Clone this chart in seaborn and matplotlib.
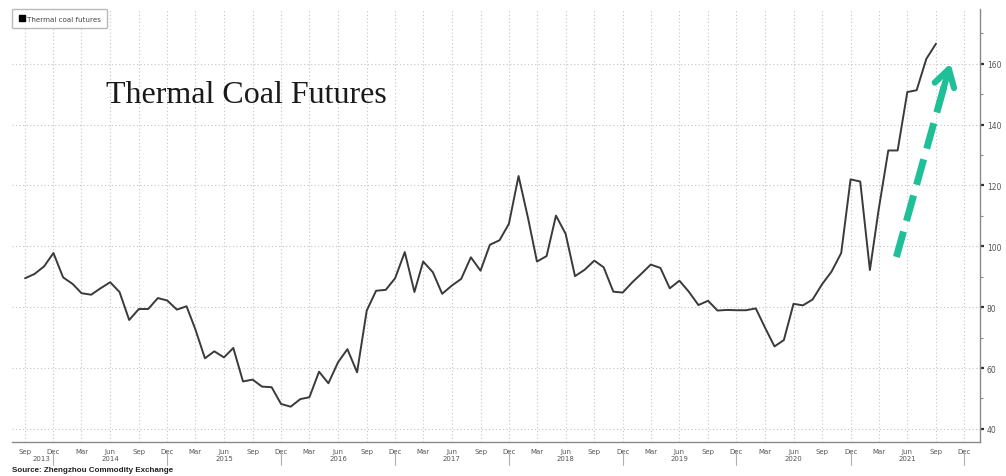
import numpy as np
import pandas as pd
import matplotlib
matplotlib.use("Agg")
import matplotlib.pyplot as plt
import matplotlib.dates as mdates
from matplotlib.lines import Line2D
from matplotlib.ticker import MultipleLocator
import seaborn as sns

# ---------------- data ----------------
START = "2013-09-01"
prices_2013 = [89.5, 90.9, 93.4, 97.8]
prices_2014 = [89.8, 87.6, 84.6, 84.1, 86.2, 88.2, 85.0, 75.8, 79.4, 79.4, 83.0, 82.2]
prices_2015 = [79.2, 80.3, 72.8, 63.2, 65.5, 63.5, 66.6, 55.6, 56.2, 53.9, 53.7, 48.2]
prices_2016 = [47.3, 49.8, 50.4, 58.8, 55.0, 61.9, 66.2, 58.6, 78.9, 85.4, 85.7, 89.5]
prices_2017 = [98.1, 85.0, 95.0, 91.5, 84.4, 87.1, 89.3, 96.4, 92.0, 100.5, 102.0, 107.4]
prices_2018 = [123.1, 109.0, 95.0, 96.8, 110.1, 104.1, 90.2, 92.3, 95.3, 93.1, 85.1, 84.8]
prices_2019 = [88.2, 91.2, 94.0, 92.9, 86.2, 88.7, 85.1, 80.7, 82.1, 78.9, 79.1, 79.0]
prices_2020 = [79.0, 79.6, 73.4, 67.1, 69.2, 81.1, 80.6, 82.5, 87.6, 91.7, 97.8, 122.0]
prices_2021 = [121.3, 92.2, 112.0, 131.5, 131.5, 150.7, 151.3, 161.6, 166.6]

values = (prices_2013 + prices_2014 + prices_2015 + prices_2016 + prices_2017
          + prices_2018 + prices_2019 + prices_2020 + prices_2021)
dates = pd.date_range(START, periods=len(values), freq="MS")
df = pd.DataFrame({"date": dates, "price": values})

years = [2013, 2014, 2015, 2016, 2017, 2018, 2019, 2020, 2021]
y_ticks = [40, 60, 80, 100, 120, 140, 160]
series_label = "Thermal coal futures"
title_text = "Thermal Coal Futures"
source_text = "Source: Zhengzhou Commodity Exchange"

# arrow annotation (date, value)
arrow_start = ("2021-04-27", 96.5)
arrow_end = ("2021-10-20", 161.0)

# ---------------- style ----------------
sns.set_theme(style="white")
plt.rcParams["font.family"] = ["DejaVu Sans"]

LINE_C = "#3a3a3a"
GRID_C = "#c4c4c4"
AXIS_C = "#8a8a8a"
TEXT_C = "#555555"
ARROW_C = "#1fbf97"

fig = plt.figure(figsize=(10.06, 4.77), dpi=100)
ax = fig.add_axes([0.0119, 0.0713, 0.9622, 0.9078])

sns.lineplot(data=df, x="date", y="price", ax=ax, color=LINE_C, lw=1.4,
             legend=False, zorder=3)

ax.set_xlim(pd.Timestamp("2013-07-21"), pd.Timestamp("2022-01-20"))
ax.set_ylim(35.7, 178)
ax.set_xlabel("")
ax.set_ylabel("")

# spines
for s in ["top", "left"]:
    ax.spines[s].set_visible(False)
for s in ["right", "bottom"]:
    ax.spines[s].set_color(AXIS_C)
    ax.spines[s].set_linewidth(1.0)

# y axis on right
ax.yaxis.tick_right()
ax.set_yticks(y_ticks)
ax.yaxis.set_minor_locator(MultipleLocator(10))
ax.tick_params(axis="y", which="major", direction="out", length=3, width=1.6,
               color="#333333", labelsize=5.5, labelcolor=TEXT_C, pad=2)
ax.tick_params(axis="y", which="minor", direction="out", length=2.5, width=0.8,
               color=AXIS_C)

# x axis
ax.xaxis.set_major_locator(mdates.MonthLocator(bymonth=[3, 6, 9, 12]))
ax.xaxis.set_major_formatter(mdates.DateFormatter("%b"))
ax.xaxis.set_minor_locator(mdates.MonthLocator())
ax.tick_params(axis="x", which="major", direction="out", length=3, width=0.8,
               color=AXIS_C, labelsize=5, labelcolor=TEXT_C, pad=1.0)
ax.tick_params(axis="x", which="minor", direction="out", length=2, width=0.6,
               color=AXIS_C)

# grid
ax.grid(True, which="major", axis="both", ls=(0, (1, 2.2)), color=GRID_C, lw=0.8)
ax.set_axisbelow(True)

# year separators and labels
for yr in years:
    sep = mdates.date2num(pd.Timestamp(f"{yr}-12-01"))
    ax.plot([sep, sep], [-0.023, -0.052], transform=ax.get_xaxis_transform(),
            color="#b0b0b0", lw=0.8, clip_on=False)
    if yr == years[0]:
        pos = pd.Timestamp(f"{yr}-10-25")
    else:
        pos = pd.Timestamp(f"{yr}-06-01")
    ax.text(mdates.date2num(pos), -0.036, str(yr), transform=ax.get_xaxis_transform(),
            ha="center", va="center", fontsize=5, color=TEXT_C)

# legend
handle = Line2D([], [], marker="s", color="black", linestyle="None", markersize=4.5)
leg = ax.legend([handle], [series_label], loc="upper left", bbox_to_anchor=(0.0, 1.0),
                fontsize=5.1, frameon=True, fancybox=True, borderpad=0.95,
                handletextpad=0.25, handlelength=0.9, borderaxespad=0.0)
leg.get_frame().set_edgecolor("#a8a8a8")
leg.get_frame().set_linewidth(1.0)
for t in leg.get_texts():
    t.set_color("#444444")

# title inside chart
fig.text(0.105, 0.784, title_text, fontsize=23, family=["Liberation Serif"],
         color="#1a1a1a", ha="left", va="baseline")

# source
fig.text(0.012, 0.0135, source_text, fontsize=5.8, family=["Liberation Sans"],
         fontweight="bold", color="#222222", ha="left", va="center")

# green dashed arrow
x0 = mdates.date2num(pd.Timestamp(arrow_start[0]))
x1 = mdates.date2num(pd.Timestamp(arrow_end[0]))
y0, y1 = arrow_start[1], arrow_end[1]
frac = 0.9
ax.plot([x0, x0 + frac * (x1 - x0)], [y0, y0 + frac * (y1 - y0)], color=ARROW_C,
        lw=5, dashes=(3.8, 1.6), solid_capstyle="butt", dash_capstyle="butt", zorder=4)
ax.annotate("", xy=(x1, y1), xytext=(x0 + 0.85 * (x1 - x0), y0 + 0.85 * (y1 - y0)),
            arrowprops=dict(arrowstyle="->,head_length=1.0,head_width=0.6",
                            color=ARROW_C, lw=4.5), zorder=4)

fig.savefig("out.png", dpi=100, facecolor="white")
